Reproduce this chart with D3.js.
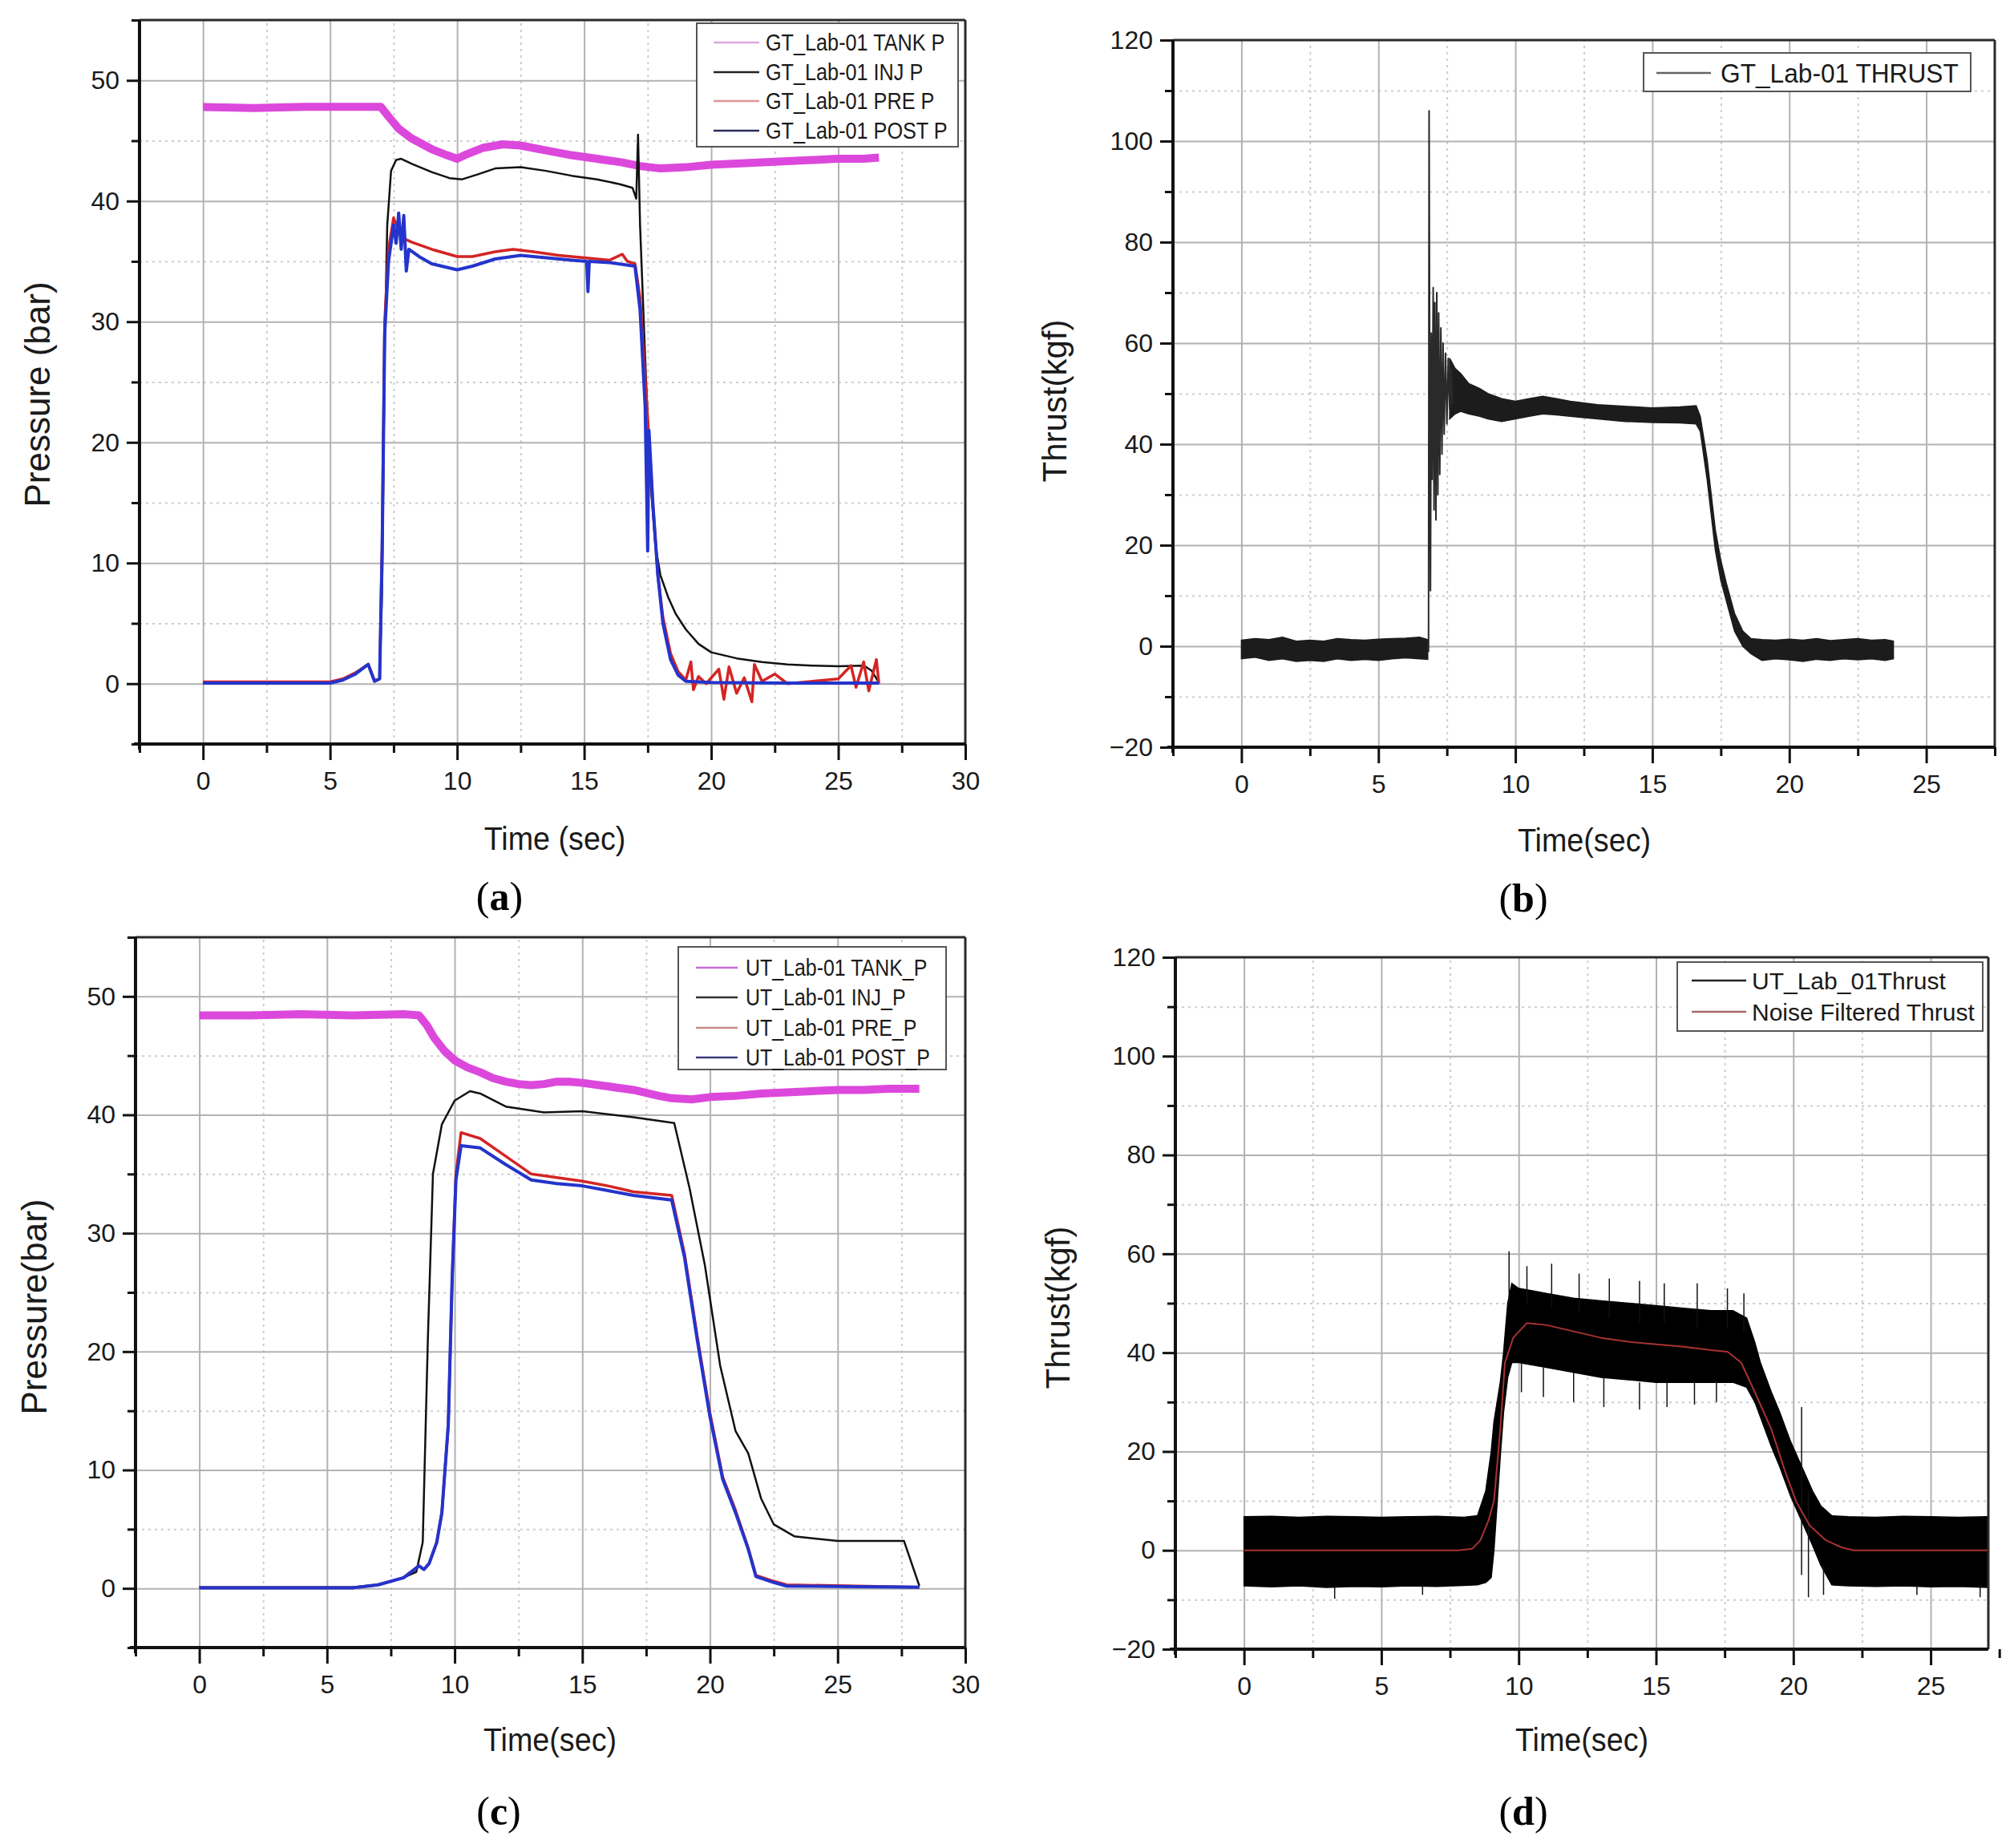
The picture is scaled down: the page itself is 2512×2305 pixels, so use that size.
<!DOCTYPE html>
<html>
<head>
<meta charset="utf-8">
<script src="https://cdn.jsdelivr.net/npm/d3@7"></script>
<style>
  body { margin: 0; background: #fff; }
  text { font-family: "Liberation Sans", Arial, sans-serif; fill: #1a1a1a; }
  .caption { font-family: "Liberation Serif", "Times New Roman", serif; fill: #000; }
</style>
</head>
<body>
<svg id="fig" width="2512" height="2305"></svg>
<script>
// ---- values ----

// (a) GT_Lab-01 pressures, [time s, bar]
const gtTankP = [[0,47.8],[2,47.7],[4,47.8],[6,47.8],[7,47.8],[7.3,47.0],[7.7,46.0],[8.2,45.2],[9,44.3],[9.6,43.8],[10,43.5],[10.4,43.9],[11,44.4],[11.8,44.7],[12.5,44.6],[13.5,44.2],[14.5,43.8],[15.5,43.5],[16.5,43.2],[17.2,42.9],[18,42.7],[19,42.8],[20,43.0],[21,43.1],[22,43.2],[23,43.3],[24,43.4],[25,43.5],[26,43.5],[26.6,43.6]];
const gtInjP = [[0,0.1],[5,0.1],[5.5,0.3],[6,0.9],[6.5,1.6],[6.75,0.3],[6.95,0.4],[7.05,8],[7.15,28],[7.25,38],[7.4,42.5],[7.6,43.4],[7.8,43.5],[8.2,43.1],[9,42.4],[9.7,41.9],[10.2,41.8],[10.8,42.2],[11.5,42.7],[12.5,42.8],[13.5,42.5],[14.5,42.1],[15.5,41.8],[16.4,41.4],[16.9,41.1],[17.05,40.2],[17.12,45.5],[17.2,38],[17.4,27],[17.6,17],[17.8,11.5],[18,9],[18.3,7.2],[18.6,5.8],[19,4.5],[19.5,3.3],[20,2.6],[21,2.1],[22,1.8],[23,1.6],[24,1.5],[25,1.45],[26,1.5],[26.3,1.1],[26.6,0.1]];
const gtPreP = [[0,0.15],[5,0.15],[5.5,0.4],[6,0.9],[6.5,1.6],[6.75,0.2],[6.95,0.4],[7.05,12],[7.15,30],[7.3,36],[7.5,38.6],[7.65,37.8],[7.8,37],[8.2,36.6],[9,36.0],[10,35.4],[10.6,35.4],[11.5,35.8],[12.2,36.0],[13,35.8],[14,35.5],[15,35.3],[16,35.1],[16.5,35.6],[16.7,35.0],[17,34.8],[17.2,32],[17.5,22],[17.7,15],[17.9,9],[18.1,5.5],[18.4,2.5],[18.7,1.0],[19,0.3],[19.2,1.8],[19.3,-0.5],[19.5,0.6],[19.8,0],[20.3,1.2],[20.5,-1.3],[20.7,1.4],[21,-0.8],[21.3,0.5],[21.6,-1.5],[21.7,1.6],[22,0.2],[22.5,0.8],[23,0],[24,0.2],[25,0.4],[25.5,1.5],[25.7,-0.3],[26,1.8],[26.2,-0.6],[26.5,2],[26.6,0]];
const gtPostP = [[0,0.05],[5,0.05],[5.5,0.3],[6,0.8],[6.5,1.6],[6.75,0.2],[6.95,0.4],[7.05,11],[7.15,29],[7.3,35],[7.5,38],[7.6,36.5],[7.7,39],[7.8,36],[7.9,38.8],[8.0,34.2],[8.1,36],[8.5,35.4],[9,34.8],[10,34.3],[10.6,34.6],[11.5,35.2],[12.5,35.5],[13.5,35.3],[14.5,35.1],[15.1,35.0],[15.15,32.5],[15.2,35],[16,34.9],[17,34.6],[17.2,31],[17.4,23],[17.5,11],[17.55,21],[17.7,15],[17.9,9],[18.1,5],[18.4,2],[18.7,0.7],[19,0.2],[20,0.1],[23,0.05],[26.6,0.05]];

// (b) GT_Lab-01 thrust: noise envelopes [time, low, high] and ignition trace [time, kgf]
const gtThrustPre = [[0,-2.5,1.2],[0.5,-2.2,1.5],[1,-2.8,1.3],[1.5,-2.5,1.8],[2,-3,1.0],[2.5,-2.8,1.2],[3,-3,1.0],[3.5,-2.5,1.5],[4,-2.8,1.3],[4.5,-2.6,1.2],[5,-2.8,1.4],[5.5,-2.5,1.5],[6,-2.3,1.6],[6.5,-2.5,1.8],[6.8,-2.6,1.3]];
const gtThrustIgn = [[6.8,0],[6.83,-1],[6.85,106],[6.88,35],[6.9,11],[6.93,62],[6.96,33],[7.0,71],[7.03,27],[7.06,68],[7.1,25],[7.13,70],[7.17,30],[7.2,66],[7.24,34],[7.28,63],[7.32,38],[7.36,60],[7.4,42],[7.45,58],[7.5,44],[7.55,57],[7.6,47],[7.65,55],[7.7,48]];
const gtThrustRun = [[7.6,45,57],[7.8,46,55],[8,46.5,54],[8.3,46,52],[8.7,45.5,51],[9,45,50],[9.5,44.5,49],[10,45,48.5],[10.5,45.5,49],[11,46,49.5],[11.5,45.8,49],[12,45.5,48.5],[13,45,47.8],[14,44.5,47.5],[15,44.3,47.2],[16,44.2,47.4],[16.6,44,47.6],[16.75,42.5,45.5],[17,33,37],[17.3,19,23],[17.5,13,17],[17.7,9,12.5],[18,3,6.5],[18.3,0,3],[18.6,-1.5,1.5],[19,-2.8,1.3],[19.5,-2.5,1.2],[20,-2.7,1.4],[20.5,-3,1.2],[21,-2.6,1.5],[21.5,-2.8,1.1],[22,-2.5,1.3],[22.5,-2.7,1.5],[23,-2.5,1.2],[23.5,-2.8,1.3],[23.8,-2.5,1]];

// (c) UT_Lab-01 pressures, [time s, bar]
const utTankP = [[0,48.4],[2,48.4],[4,48.5],[6,48.4],[8,48.5],[8.6,48.4],[8.9,47.6],[9.2,46.5],[9.6,45.4],[10,44.6],[10.5,44.0],[11,43.6],[11.5,43.1],[12,42.8],[12.5,42.6],[13,42.5],[13.5,42.6],[14,42.8],[14.5,42.8],[15,42.7],[16,42.4],[17,42.1],[18,41.6],[18.5,41.4],[19.3,41.3],[20,41.5],[21,41.6],[22,41.8],[23,41.9],[24,42.0],[25,42.1],[26,42.1],[27,42.2],[28.2,42.2]];
const utInjP = [[0,0.1],[6,0.1],[7,0.3],[8,0.9],[8.5,1.4],[8.75,3.9],[8.95,21],[9.15,35],[9.5,39.2],[10,41.2],[10.6,42],[11,41.8],[12,40.7],[13.5,40.2],[15,40.3],[17,39.8],[18.6,39.3],[19.2,33.8],[19.8,27.3],[20.4,18.8],[21,13.3],[21.5,11.4],[22,7.6],[22.5,5.4],[23.3,4.4],[25,4.0],[27.6,4.0],[28.2,0.2]];
const utPreP = [[0,0.05],[6,0.05],[7,0.3],[8,0.9],[8.6,1.9],[8.8,1.6],[9.0,2.1],[9.3,3.9],[9.5,6.4],[9.75,13.8],[9.9,26],[10.05,35],[10.25,38.5],[11,38],[12,36.5],[13,35],[14,34.7],[15,34.4],[16,34],[17,33.5],[18.5,33.2],[19,28.3],[19.5,21.3],[20,14.8],[20.5,9.4],[21,6.6],[21.5,3.4],[21.8,1.1],[22.5,0.6],[23,0.3],[28.2,0.1]];
const utPostP = [[0,0.05],[6,0.05],[7,0.3],[8,0.9],[8.6,1.9],[8.8,1.6],[9.0,2.1],[9.3,3.9],[9.5,6.4],[9.75,13.8],[9.9,26],[10.05,34.5],[10.25,37.4],[11,37.2],[12,35.8],[13,34.5],[14,34.2],[15,34.0],[16,33.6],[17,33.2],[18.5,32.8],[19,28],[19.5,21],[20,14.5],[20.5,9.2],[21,6.4],[21.5,3.3],[21.8,1.0],[22.5,0.5],[23,0.2],[28.2,0.1]];

// (d) UT_Lab-01 thrust: noise envelope [time, low, high], stray spikes [time, low, high], filtered [time, kgf]
const utThrustBand = [[0,-7.2,6.8],[1,-7.4,6.9],[2,-7.2,6.7],[3,-7.5,6.9],[4,-7.3,6.8],[5,-7.4,6.7],[6,-7.2,6.8],[7,-7.3,6.9],[8,-7.1,6.7],[8.5,-7,7],[8.8,-6.5,12],[9.0,-5.5,20],[9.1,0,26],[9.33,19,34],[9.45,28,40],[9.6,35,50],[9.75,38,54],[10,38,53],[10.5,37.5,52.5],[11,37,52],[12,36,51],[13,35,50.5],[14,34.5,50],[15,34,49.5],[16,34,49],[17,34,48.5],[17.8,34,48.5],[18.3,33,47],[18.6,30,42],[18.8,27,38],[19.2,21,32],[19.5,17,28],[19.9,11,22],[20.3,6,17],[20.7,1,12],[21.0,-3,9],[21.4,-7,7],[22,-7.2,6.8],[23,-7.3,6.7],[24,-7.2,6.9],[25,-7.4,6.8],[26,-7.3,6.7],[27.1,-7.5,6.8]];
const utThrustSpikes = [[9.65,50,60.5],[10.3,50,57.5],[11.2,49,58],[12.2,48,56],[13.3,47,55],[14.4,46,54.5],[15.3,46,54],[16.5,45,54],[17.6,45,53],[18.2,44,52],[10.1,32,38],[10.9,31,37],[12.0,30,36],[13.1,29,35],[14.4,28.5,34],[15.4,29,34],[16.4,29.5,34],[17.2,30,34],[20.3,-5,29],[20.55,-9.5,12],[21.1,-9,-3],[3.3,-9.8,-7],[6.5,-9,-7],[24.5,-9,-7],[26.8,-9.5,-7]];
const utThrustFiltered = [[0,0],[7.8,0],[8.3,0.3],[8.6,2],[8.9,6],[9.1,10],[9.33,24.5],[9.5,38],[9.8,43],[10.3,46],[11,45.6],[12,44.3],[13,43],[14,42.2],[15,41.7],[16,41.2],[17,40.5],[17.6,40.2],[18.1,38],[18.6,32],[19.2,24.5],[19.7,16],[20.1,9.9],[20.6,5],[21.2,2],[21.75,0.6],[22.2,0],[27.1,0]];

// tick values
const pressureTicks = [0, 10, 20, 30, 40, 50];
const pressureMinor = [-5, 5, 15, 25, 35, 45, 55];
const thrustTicks = [-20, 0, 20, 40, 60, 80, 100, 120];
const thrustMinor = [-10, 10, 30, 50, 70, 90, 110];
const timeTicks30 = [0, 5, 10, 15, 20, 25, 30];
const timeTicks25 = [0, 5, 10, 15, 20, 25];
const timeMinor = [-2.5, 2.5, 7.5, 12.5, 17.5, 22.5, 27.5];

// legend labels
const gtPressureLabels = ["GT_Lab-01 TANK P", "GT_Lab-01 INJ P", "GT_Lab-01 PRE P", "GT_Lab-01 POST P"];
const utPressureLabels = ["UT_Lab-01 TANK_P", "UT_Lab-01 INJ_P", "UT_Lab-01 PRE_P", "UT_Lab-01 POST_P"];
const gtThrustLabels = ["GT_Lab-01 THRUST"];
const utThrustLabels = ["UT_Lab_01Thrust", "Noise Filtered Thrust"];

const svg = d3.select("#fig");
svg.append("rect").attr("width", 2512).attr("height", 2305).attr("fill", "#fff");

function drawPanel(p, idx) {
  const x = d3.scaleLinear().domain(p.xDomain).range([p.left, p.right]);
  const y = d3.scaleLinear().domain(p.yDomain).range([p.bottom, p.top]);
  const w = p.right - p.left, h = p.bottom - p.top;
  const g = svg.append("g");

  const inX = v => v > p.xDomain[0] + 1e-6 && v < p.xDomain[1] - 1e-6;
  const inY = v => v > p.yDomain[0] + 1e-6 && v < p.yDomain[1] - 1e-6;

  // grid, minor dotted then major solid
  const grid = (axis, tr, cls) => g.append("g").attr("class", cls).attr("transform", tr).call(axis);
  grid(d3.axisBottom(x).tickValues(p.xMinor.filter(inX)).tickSize(-h).tickFormat(""), `translate(0,${p.bottom})`, "gmin");
  grid(d3.axisLeft(y).tickValues(p.yMinor.filter(inY)).tickSize(-w).tickFormat(""), `translate(${p.left},0)`, "gmin");
  grid(d3.axisBottom(x).tickValues(p.xTicks.filter(inX)).tickSize(-h).tickFormat(""), `translate(0,${p.bottom})`, "gmaj");
  grid(d3.axisLeft(y).tickValues(p.yTicks.filter(inY)).tickSize(-w).tickFormat(""), `translate(${p.left},0)`, "gmaj");
  g.selectAll(".gmin .domain, .gmaj .domain").remove();
  g.selectAll(".gmin line").attr("stroke", "#cdcdcd").attr("stroke-width", 2).attr("stroke-dasharray", "3,5");
  g.selectAll(".gmaj line").attr("stroke", "#b2b2b2").attr("stroke-width", 2);

  // data
  const clipId = "clip" + idx;
  g.append("clipPath").attr("id", clipId).append("rect")
    .attr("x", p.left).attr("y", p.top).attr("width", w).attr("height", h);
  const plot = g.append("g").attr("clip-path", `url(#${clipId})`);
  const line = d3.line().x(d => x(d[0])).y(d => y(d[1]));
  const area = d3.area().x(d => x(d[0])).y0(d => y(d[1])).y1(d => y(d[2]));

  (p.bands || []).forEach(b => {
    plot.append("path").datum(b.data).attr("d", area)
      .attr("fill", b.color).attr("stroke", b.color).attr("stroke-width", 1.5);
  });
  (p.spikes || []).forEach(s => {
    plot.selectAll(null).data(s.data).join("line")
      .attr("x1", d => x(d[0])).attr("x2", d => x(d[0]))
      .attr("y1", d => y(d[1])).attr("y2", d => y(d[2]))
      .attr("stroke", s.color).attr("stroke-width", 1.5);
  });
  (p.lines || []).forEach(s => {
    plot.append("path").datum(s.data).attr("d", line)
      .attr("fill", "none").attr("stroke", s.color).attr("stroke-width", s.width)
      .attr("stroke-linejoin", "round");
  });

  // frame
  g.append("line").attr("x1", p.left).attr("x2", p.right).attr("y1", p.top).attr("y2", p.top)
    .attr("stroke", "#2a2a2a").attr("stroke-width", 3);
  g.append("line").attr("x1", p.right).attr("x2", p.right).attr("y1", p.top).attr("y2", p.bottom)
    .attr("stroke", "#2a2a2a").attr("stroke-width", 3);

  // ticks (major with labels, minor without)
  const xAx = g.append("g").attr("transform", `translate(0,${p.bottom})`)
    .call(d3.axisBottom(x).tickValues(p.xTicks).tickSize(20).tickSizeOuter(0));
  const xMin = g.append("g").attr("transform", `translate(0,${p.bottom})`)
    .call(d3.axisBottom(x).tickValues(p.xMinor).tickSize(11).tickFormat(""));
  const yAx = g.append("g").attr("transform", `translate(${p.left},0)`)
    .call(d3.axisLeft(y).tickValues(p.yTicks).tickSize(16).tickSizeOuter(0));
  const yMin = g.append("g").attr("transform", `translate(${p.left},0)`)
    .call(d3.axisLeft(y).tickValues(p.yMinor).tickSize(10).tickFormat(""));
  [xAx, xMin, yAx, yMin].forEach(a => {
    a.select(".domain").remove();
    a.selectAll("line").attr("stroke", "#111").attr("stroke-width", 3);
  });
  xAx.selectAll("text").attr("y", 34).attr("font-size", 32).attr("fill", "#1a1a1a");
  yAx.selectAll("text").attr("x", -25).attr("font-size", 32).attr("fill", "#1a1a1a");

  // spines
  g.append("line").attr("x1", p.left - 7).attr("x2", p.right).attr("y1", p.bottom).attr("y2", p.bottom)
    .attr("stroke", "#111").attr("stroke-width", 4);
  g.append("line").attr("x1", p.left).attr("x2", p.left).attr("y1", p.top).attr("y2", p.bottom + 7)
    .attr("stroke", "#111").attr("stroke-width", 4);

  // legend
  const L = p.legend;
  g.append("rect").attr("x", L.box[0]).attr("y", L.box[1])
    .attr("width", L.box[2] - L.box[0]).attr("height", L.box[3] - L.box[1])
    .attr("fill", "#fff").attr("stroke", "#555").attr("stroke-width", 2);
  L.labels.forEach((lab, i) => {
    g.append("line").attr("x1", L.lineX[0]).attr("x2", L.lineX[1])
      .attr("y1", L.rows[i]).attr("y2", L.rows[i])
      .attr("stroke", L.colors[i]).attr("stroke-width", 2.5);
    g.append("text").attr("dy", "0.36em")
      .attr("transform", `translate(${L.textX},${L.rows[i]}) scale(${L.sx},1)`)
      .attr("font-size", L.font).text(lab);
  });

  // axis titles
  g.append("text").attr("text-anchor", "middle").attr("font-size", 41)
    .attr("transform", `translate(${p.xTitle[0]},${p.xTitle[1]}) scale(0.92,1)`).text(p.xTitle[2]);
  g.append("text").attr("text-anchor", "middle").attr("font-size", p.yTitle[3])
    .attr("transform", `translate(${p.yTitle[0]},${p.yTitle[1]}) rotate(-90)`).text(p.yTitle[2]);

  // caption
  const cap = g.append("text").attr("class", "caption").attr("text-anchor", "middle")
    .attr("x", p.caption[0]).attr("y", p.caption[1]).attr("font-size", 50);
  cap.append("tspan").text("(");
  cap.append("tspan").attr("font-weight", "bold").text(p.caption[2]);
  cap.append("tspan").text(")");
}

const panels = [
  { // (a)
    left: 174, right: 1204, top: 25, bottom: 928,
    xDomain: [-2.5, 30], yDomain: [-5, 55],
    xTicks: timeTicks30, xMinor: timeMinor, yTicks: pressureTicks, yMinor: pressureMinor,
    lines: [
      { data: gtTankP, color: "#dc48dc", width: 10 },
      { data: gtInjP, color: "#111", width: 2.5 },
      { data: gtPreP, color: "#d42424", width: 3.5 },
      { data: gtPostP, color: "#2434cc", width: 4 }
    ],
    legend: { box: [869, 29, 1195, 183], lineX: [890, 947], textX: 955, rows: [53, 90, 126, 163], font: 29, sx: 0.87,
      labels: gtPressureLabels, colors: ["#e0a6e0", "#222", "#e09494", "#2c2c5c"] },
    xTitle: [692, 1060, "Time (sec)"], yTitle: [62, 492, "Pressure (bar)", 44], caption: [623, 1135, "a"]
  },
  { // (b)
    left: 1463, right: 2488, top: 50, bottom: 932,
    xDomain: [-2.5, 27.5], yDomain: [-20, 120],
    xTicks: timeTicks25, xMinor: timeMinor, yTicks: thrustTicks, yMinor: thrustMinor,
    bands: [ { data: gtThrustPre, color: "#1c1c1c" }, { data: gtThrustRun, color: "#1c1c1c" } ],
    lines: [ { data: gtThrustIgn, color: "#2a2a2a", width: 2 } ],
    legend: { box: [2050, 66, 2458, 114], lineX: [2066, 2134], textX: 2146, rows: [91], font: 33, sx: 0.96,
      labels: gtThrustLabels, colors: ["#666"] },
    xTitle: [1976, 1062, "Time(sec)"], yTitle: [1330, 500, "Thrust(kgf)", 42], caption: [1900, 1137, "b"]
  },
  { // (c)
    left: 169, right: 1204, top: 1169, bottom: 2055,
    xDomain: [-2.5, 30], yDomain: [-5, 55],
    xTicks: timeTicks30, xMinor: timeMinor, yTicks: pressureTicks, yMinor: pressureMinor,
    lines: [
      { data: utTankP, color: "#dc48dc", width: 10 },
      { data: utInjP, color: "#111", width: 2.5 },
      { data: utPreP, color: "#d42424", width: 3.5 },
      { data: utPostP, color: "#2434cc", width: 4 }
    ],
    legend: { box: [846, 1181, 1180, 1334], lineX: [868, 920], textX: 930, rows: [1207, 1244, 1282, 1319], font: 29, sx: 0.86,
      labels: utPressureLabels, colors: ["#c46ed4", "#333", "#c88a8a", "#3c3c80"] },
    xTitle: [686, 2184, "Time(sec)"], yTitle: [58, 1630, "Pressure(bar)", 44], caption: [622, 2276, "c"]
  },
  { // (d)
    left: 1466, right: 2480, top: 1194, bottom: 2057,
    xDomain: [-2.5, 27.1], yDomain: [-20, 120],
    xTicks: timeTicks25, xMinor: timeMinor, yTicks: thrustTicks, yMinor: thrustMinor,
    bands: [ { data: utThrustBand, color: "#000" } ],
    spikes: [ { data: utThrustSpikes, color: "#111" } ],
    lines: [ { data: utThrustFiltered, color: "#a83232", width: 2 } ],
    legend: { box: [2092, 1200, 2473, 1286], lineX: [2110, 2178], textX: 2185, rows: [1223, 1262], font: 30, sx: 1,
      labels: utThrustLabels, colors: ["#222", "#a86a6a"] },
    xTitle: [1973, 2184, "Time(sec)"], yTitle: [1334, 1631, "Thrust(kgf)", 42], caption: [1900, 2276, "d"]
  }
];

panels.forEach(drawPanel);
</script>
</body>
</html>
